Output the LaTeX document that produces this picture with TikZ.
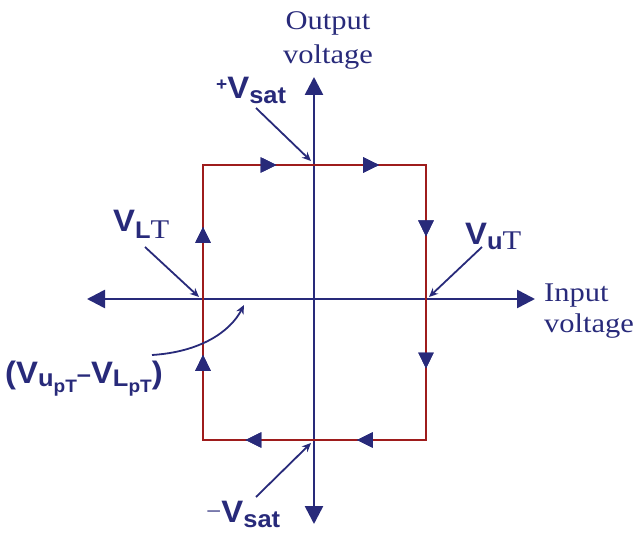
\documentclass[tikz,border=0pt]{standalone}
\usepackage{fontspec}
\setmainfont{Liberation Serif}[FakeStretch=1.13]
\newfontfamily\lblsans{Liberation Sans}[FakeStretch=1.06]
\usetikzlibrary{arrows.meta,decorations.markings}
\definecolor{navy}{RGB}{40,42,122}
\definecolor{loopred}{RGB}{158,28,28}
\newcommand{\bV}{{\fontsize{31}{31}\selectfont V}}
\newcommand{\sbs}[1]{{\fontsize{24}{24}\selectfont #1}}
\newcommand{\ssbs}[1]{{\fontsize{18}{18}\selectfont #1}}
\newcommand{\serT}{{\rmfamily\mdseries\fontsize{27}{27}\selectfont T}}
\tikzset{
  axisone/.style={draw=navy, line width=2.6pt, -{Triangle[length=18pt,width=18pt]}},
  loopedge/.style={draw=loopred, line width=2.2pt},
  pointer/.style={draw=navy, line width=1.8pt, -{Stealth[length=9pt,width=8pt]}},
  seriflbl/.style={text=navy, font=\fontsize{27}{34}\selectfont, inner sep=0pt},
  sanslbl/.style={text=navy, font=\lblsans\bfseries, inner sep=0pt, anchor=base west},
  tri/.style={decoration={markings, mark=at position #1 with {\arrow[navy]{Triangle[length=16pt,width=15pt]}}}, postaction=decorate}
}
\begin{document}
\begin{tikzpicture}[x=1pt,y=-1pt]
\useasboundingbox (0,0) rectangle (642,534);
% axes
\coordinate (yt) at (314,77);
\coordinate (yb) at (314,524);
\coordinate (xl) at (87,299);
\coordinate (xr) at (535,299);
\coordinate (o) at (314,299);
\draw[axisone] (o) -- (yt);
\draw[axisone] (o) -- (yb);
\draw[axisone] (o) -- (xl);
\draw[axisone] (o) -- (xr);
% loop
\coordinate (tl) at (203,165);
\coordinate (tr) at (426,165);
\coordinate (br) at (426,440);
\coordinate (bl) at (203,440);
\draw[loopedge, line cap=rect] (tl) -- (tr) -- (br) -- (bl) -- cycle;
\draw[loopedge, tri=0.33, tri=0.79] (tl) -- (tr);
\draw[loopedge, tri=0.26, tri=0.74] (tr) -- (br);
\draw[loopedge, tri=0.31, tri=0.81] (br) -- (bl);
\draw[loopedge, tri=0.31, tri=0.775] (bl) -- (tl);
% axis titles
\node[seriflbl, anchor=base] (out) at (328,30) {Output};
\node[seriflbl, anchor=base] (outv) at (328,64) {voltage};
\node[seriflbl, anchor=base west] (inp) at (544,302) {Input};
\node[seriflbl, anchor=base west] (inpv) at (544,333) {voltage};
% labels
\node[sanslbl] (pvs) at (216,99) {\raisebox{8pt}{\ssbs{+}}\bV\raisebox{-5pt}{\sbs{sat}}};
\node[sanslbl] (nvs) at (206,522) {\raisebox{3pt}{{\rmfamily\mdseries\fontsize{24}{24}\selectfont −}}\bV\raisebox{-5pt}{\sbs{sat}}};
\node[sanslbl] (vlt) at (113,232) {\bV\raisebox{-7pt}{\sbs{L}\serT}};
\node[sanslbl] (vut) at (465,245) {\bV\raisebox{-5pt}{\sbs{u}\serT}};
\node[sanslbl] (hys) at (5,383) {{\fontsize{31}{31}\selectfont(}\bV\raisebox{-3pt}{\sbs{u}\raisebox{-6pt}{\ssbs{pT}}}\raisebox{1pt}{\sbs{–}}\bV\raisebox{-3pt}{\sbs{L}\raisebox{-6pt}{\ssbs{pT}}}{\fontsize{31}{31}\selectfont)}};
% pointers
\coordinate (p1s) at (256,108); \coordinate (p1e) at (311,161);
\coordinate (p2s) at (145,247); \coordinate (p2e) at (199,297);
\coordinate (p3s) at (482,247); \coordinate (p3e) at (429,297);
\coordinate (p4s) at (256,497); \coordinate (p4e) at (311,443);
\coordinate (c1s) at (152,355); \coordinate (c1e) at (244,305);
\draw[pointer] (p1s) -- (p1e);
\draw[pointer] (p2s) -- (p2e);
\draw[pointer] (p3s) -- (p3e);
\draw[pointer] (p4s) -- (p4e);
\draw[pointer] (c1s) .. controls (200,352) and (230,332) .. (c1e);
\end{tikzpicture}
\end{document}
